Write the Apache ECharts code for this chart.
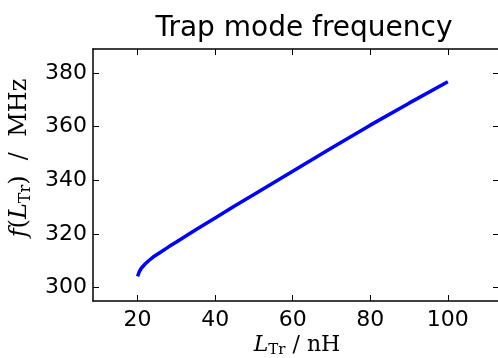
<!DOCTYPE html>
<html>
<head>
<meta charset="utf-8">
<script src="https://cdn.jsdelivr.net/npm/echarts@6/dist/echarts.min.js"></script>
<style>
  html, body { margin: 0; padding: 0; background: #fff; }
  #chart { width: 498px; height: 358px; }
</style>
</head>
<body>
<div id="chart"></div>
<script>
    // inductance L_Tr (nH) and trap mode frequency (MHz)
    var inductance = [20, 20.5, 21, 22, 23, 24, 26, 28, 30, 35, 40, 45, 50, 60, 70, 80, 90, 100];
    var frequency = [304.2, 306.1, 307.3, 308.9, 310.2, 311.4, 313.3, 315.2, 317.0, 321.6, 326.0, 330.4, 334.7, 343.4, 352.1, 360.6, 368.8, 376.8];
    var xTicks = [20, 40, 60, 80, 100];
    var yTicks = [300, 320, 340, 360, 380];

    var points = [];
    for (var i = 0; i < inductance.length; i++) {
        points.push([inductance[i], frequency[i]]);
    }

    var tickFont = { fontFamily: 'DejaVu Sans', fontSize: 22, color: '#000' };

    // math style labels: italic symbol, roman subscript, roman unit
    function mathRich(size) {
        return {
            i: { fontFamily: 'DejaVu Serif', fontStyle: 'italic', fontSize: size, fill: '#000' },
            s: { fontFamily: 'DejaVu Serif', fontSize: Math.round(size * 0.68), fill: '#000',
                 padding: [Math.round(size * 0.45), 0, 0, 0] },
            n: { fontFamily: 'DejaVu Serif', fontSize: size, fill: '#000' }
        };
    }

    function tickAxis(pos, min, max, ticks, showLabels, margin) {
        return {
            type: 'value', min: min, max: max,
            position: pos,
            axisLine: { lineStyle: { color: '#000', width: 1.5 } },
            axisTick: { inside: true, length: 6, lineStyle: { color: '#000' }, customValues: ticks },
            axisLabel: showLabels ? { customValues: ticks, margin: margin, textStyle: tickFont } : { show: false },
            splitLine: { show: false }
        };
    }

    var myChart = echarts.init(document.getElementById('chart'));
    var option = {
        animation: false,
        backgroundColor: '#fff',
        title: {
            text: 'Trap mode frequency',
            left: 299,
            top: 10,
            textAlign: 'center',
            textStyle: { fontFamily: 'DejaVu Sans', fontSize: 28, fontWeight: 'normal', color: '#000' }
        },
        grid: { left: 93, right: -1, top: 49, bottom: 57, outerBoundsMode: 'none' },
        xAxis: [
            tickAxis('bottom', 8.5, 113.2, xTicks, true, 8),
            tickAxis('top', 8.5, 113.2, xTicks, false, 0)
        ],
        yAxis: [
            tickAxis('left', 295, 389, yTicks, true, 6),
            tickAxis('right', 295, 389, yTicks, false, 0)
        ],
        graphic: [
            {
                type: 'text',
                x: 297, y: 345,
                style: {
                    text: '{i|L}{s|Tr}{n| / nH}',
                    rich: mathRich(22),
                    align: 'center',
                    verticalAlign: 'middle'
                }
            },
            {
                type: 'text',
                x: 20, y: 158,
                rotation: Math.PI / 2,
                style: {
                    text: '{i|f}{n|(}{i|L}{s|Tr}{n|)  /  MHz}',
                    rich: mathRich(24),
                    align: 'center',
                    verticalAlign: 'middle'
                }
            }
        ],
        series: [
            {
                type: 'line',
                data: points,
                smooth: false,
                showSymbol: false,
                lineStyle: { color: '#0000ff', width: 3.5 }
            }
        ]
    };
    myChart.setOption(option);
</script>
</body>
</html>
